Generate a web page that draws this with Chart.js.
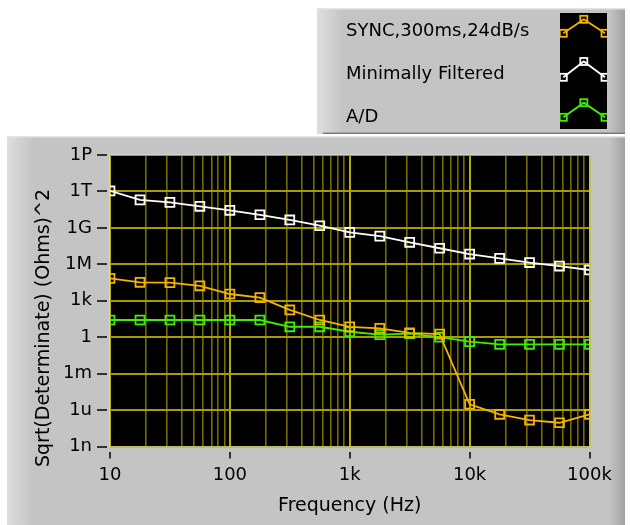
<!DOCTYPE html>
<html><head><meta charset="utf-8">
<script src="https://cdn.jsdelivr.net/npm/chart.js@4"></script>
<style>html,body{margin:0;padding:0;background:#fff;} canvas{display:block;}</style>
</head><body>
<canvas id="c" width="630" height="525"></canvas>
<script>
// ---- data ----
const frequencies = [10, 17.8, 31.6, 56.2, 100, 178, 316, 562, 1000, 1780, 3160, 5620, 10000, 17800, 31600, 56200, 100000];
const syncValues = [7e4, 3.3e4, 3.1e4, 1.7e4, 3.6e3, 1.8e3, 175, 26, 7.2, 5.4, 2.3, 1.8, 3e-6, 4.5e-7, 1.5e-7, 9e-8, 4.5e-7];
const minimalValues = [1.1e12, 2e11, 1.26e11, 6e10, 2.8e10, 1.2e10, 4.5e9, 1.5e9, 4.3e8, 2.1e8, 6.5e7, 2.1e7, 7e6, 3.1e6, 1.4e6, 7.2e5, 3.4e5];
const adValues = [26, 26, 26, 26, 26, 26, 7.2, 7.2, 2.8, 1.6, 2.0, 1.0, 0.43, 0.26, 0.26, 0.26, 0.26];
const seriesNames = ['SYNC,300ms,24dB/s', 'Minimally Filtered', 'A/D'];
const seriesColors = ['#f4b400', '#ffffff', '#3cf000'];
const xTickValues = [10, 100, 1000, 10000, 100000];
const xTickLabels = ['10', '100', '1k', '10k', '100k'];
const xMinorMultipliers = [2, 3, 4, 5, 6, 7, 8, 9];
const yTickValues = [1e-9, 1e-6, 1e-3, 1, 1e3, 1e6, 1e9, 1e12, 1e15];
const yTickLabels = ['1n', '1u', '1m', '1', '1k', '1M', '1G', '1T', '1P'];
const xTitle = 'Frequency (Hz)';
const yTitle = 'Sqrt(Determinate) (Ohms)^2';

const FONT = '"DejaVu Sans", sans-serif';
const seriesData = [syncValues, minimalValues, adValues];

function isMajorX(v) { return xTickValues.indexOf(v) >= 0; }

function drawPanel(ctx, x, y, w, h, bottomLine) {
  ctx.fillStyle = '#c4c4c4';
  ctx.fillRect(x, y, w, h);
  let g = ctx.createLinearGradient(x, 0, x + 27, 0);
  g.addColorStop(0, '#dedede'); g.addColorStop(1, '#c4c4c4');
  ctx.fillStyle = g; ctx.fillRect(x, y, 27, h);
  g = ctx.createLinearGradient(x + w - 16, 0, x + w, 0);
  g.addColorStop(0, '#c4c4c4'); g.addColorStop(1, '#a2a2a2');
  ctx.fillStyle = g; ctx.fillRect(x + w - 16, y, 16, h);
  ctx.fillStyle = '#e4e4e4'; ctx.fillRect(x, y, w, 1.5);
  if (bottomLine) { ctx.fillStyle = '#7a7a7a'; ctx.fillRect(x + 6, y + h - 1.5, w - 6, 1.5); }
}

const decorPlugin = {
  id: 'decor',
  beforeDraw(chart) {
    const ctx = chart.ctx, a = chart.chartArea;
    ctx.save();
    ctx.fillStyle = '#ffffff'; ctx.fillRect(0, 0, chart.width, chart.height);
    drawPanel(ctx, 317, 8, 308, 126, true);
    drawPanel(ctx, 7, 136, 618, 389, false);
    ctx.fillStyle = '#000';
    ctx.fillRect(a.left, a.top, a.right - a.left, a.bottom - a.top);
    ctx.restore();
  },
  afterDatasetsDraw(chart) {
    const ctx = chart.ctx, a = chart.chartArea;
    ctx.save();
    ctx.strokeStyle = '#d4d4d4'; ctx.lineWidth = 1;
    ctx.strokeRect(a.left - 0.5, a.top - 0.5, a.right - a.left + 1, a.bottom - a.top + 1);
    ctx.restore();
  },
  afterDraw(chart) {
    const ctx = chart.ctx;
    ctx.save();
    // y axis title
    ctx.font = '19px ' + FONT; ctx.fillStyle = '#000';
    ctx.translate(44, 328); ctx.rotate(-Math.PI / 2);
    ctx.textAlign = 'center'; ctx.textBaseline = 'middle';
    ctx.fillText(yTitle, 0, 0);
    ctx.restore();
    // legend
    ctx.save();
    ctx.font = '18px ' + FONT; ctx.fillStyle = '#000';
    ctx.textAlign = 'left'; ctx.textBaseline = 'alphabetic';
    const baselines = [36, 79, 121.5];
    seriesNames.forEach((n, i) => ctx.fillText(n, 346, baselines[i]));
    ctx.fillStyle = '#000'; ctx.fillRect(560, 13, 47, 116);
    ctx.beginPath(); ctx.rect(560, 13, 47, 116); ctx.clip();
    const rows = [[33.3, 19.3], [77.3, 61.5], [117.3, 102.7]];
    rows.forEach((r, i) => {
      const pts = [[563.3, r[0]], [583.8, r[1]], [605, r[0]]];
      ctx.strokeStyle = seriesColors[i]; ctx.lineWidth = 1.8;
      ctx.beginPath(); ctx.moveTo(pts[0][0], pts[0][1]);
      ctx.lineTo(pts[1][0], pts[1][1]); ctx.lineTo(pts[2][0], pts[2][1]); ctx.stroke();
      pts.forEach(p => ctx.strokeRect(p[0] - 3.5, p[1] - 3.5, 7, 7));
    });
    ctx.restore();
  }
};

const datasets = seriesNames.map((name, i) => ({
  label: name,
  data: frequencies.map((f, k) => ({ x: f, y: seriesData[i][k] })),
  borderColor: seriesColors[i],
  borderWidth: 1.8,
  pointStyle: 'rect',
  pointRadius: 6.3,
  pointBorderColor: seriesColors[i],
  pointBackgroundColor: 'rgba(0,0,0,0)',
  pointBorderWidth: 1.8,
  tension: 0,
  clip: 0
}));

new Chart(document.getElementById('c'), {
  type: 'line',
  data: { datasets },
  plugins: [decorPlugin],
  options: {
    responsive: false,
    animation: false,
    events: [],
    layout: { padding: { left: 0, top: 155, right: 40.5, bottom: 0 } },
    plugins: { legend: { display: false }, tooltip: { enabled: false } },
    scales: {
      x: {
        type: 'logarithmic', min: 10, max: 100000,
        afterBuildTicks(scale) {
          const t = [];
          xTickValues.forEach((d, i) => {
            t.push({ value: d, major: true });
            if (i < xTickValues.length - 1) xMinorMultipliers.forEach(m => t.push({ value: d * m }));
          });
          t.sort((p, q) => p.value - q.value);
          scale.ticks = t;
        },
        afterFit(scale) { scale.height = 78.5; },
        border: { display: false },
        grid: {
          color: c => isMajorX(c.tick.value) ? '#b4ac00' : '#746c00',
          lineWidth: c => isMajorX(c.tick.value) ? 2 : 1.6,
          tickColor: c => isMajorX(c.tick.value) ? '#000' : 'rgba(0,0,0,0)',
          tickWidth: 1.5,
          tickLength: 12,
          tickBorderDash: [0, 5, 7, 100]
        },
        ticks: {
          autoSkip: false, maxRotation: 0, minRotation: 0,
          padding: 6, color: '#000', font: { family: FONT, size: 18 },
          callback(v) { const i = xTickValues.indexOf(v); return i >= 0 ? xTickLabels[i] : ''; }
        },
        title: { display: true, text: xTitle, color: '#000', font: { family: FONT, size: 19 }, padding: { top: 0, bottom: 8 } }
      },
      y: {
        type: 'logarithmic', min: 1e-9, max: 1e15,
        afterBuildTicks(scale) { scale.ticks = yTickValues.map(v => ({ value: v, major: true })); },
        afterFit(scale) { scale.width = 110; },
        border: { display: false },
        grid: {
          color: '#a69e00', lineWidth: 2,
          tickColor: '#000', tickWidth: 1.5, tickLength: 13,
          tickBorderDash: [10, 100]
        },
        ticks: {
          autoSkip: false, padding: 5, color: '#000', font: { family: FONT, size: 18 },
          callback(v, i) { return yTickLabels[i]; }
        }
      }
    }
  }
});
</script>
</body></html>
